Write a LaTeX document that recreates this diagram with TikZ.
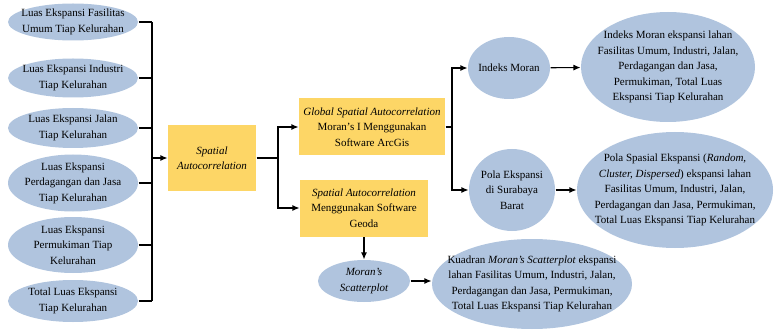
\documentclass[tikz,border=0pt]{standalone}
\usepackage{fontspec}
\setmainfont{Liberation Serif}
\usetikzlibrary{shapes.geometric,arrows.meta}

\definecolor{ellblue}{RGB}{176,196,222}
\definecolor{boxgold}{RGB}{253,214,102}

\tikzset{
  oval/.style={ellipse, fill=ellblue, inner sep=-25pt, align=center},
  gbox/.style={rectangle, fill=boxgold, inner sep=0pt, align=center},
  arr/.style={-{Latex[length=7pt,width=6pt]}},
}

\begin{document}
\begin{tikzpicture}[x=1pt,y=-1pt,line width=1.1pt,
    font=\fontsize{11}{15.5}\selectfont]
  \useasboundingbox (0,0) rectangle (778,331);

  \node[oval, minimum width=130, minimum height=37] (e1) at (73,22) {Luas Ekspansi Fasilitas\\Umum Tiap Kelurahan};
  \node[oval, minimum width=130, minimum height=39] (e2) at (73,78) {Luas Ekspansi Industri\\Tiap Kelurahan};
  \node[oval, minimum width=130, minimum height=40] (e3) at (73,128) {Luas Ekspansi Jalan\\Tiap Kelurahan};
  \node[oval, minimum width=130, minimum height=57] (e4) at (73,183) {Luas Ekspansi\\Perdagangan dan Jasa\\Tiap Kelurahan};
  \node[oval, minimum width=130, minimum height=56] (e5) at (73,245) {Luas Ekspansi\\Permukiman Tiap\\Kelurahan};
  \node[oval, minimum width=130, minimum height=42] (e6) at (73,301) {Total Luas Ekspansi\\Tiap Kelurahan};

  \node[gbox, minimum width=88, minimum height=66] (sa) at (212,158) {\itshape Spatial\\\itshape Autocorrelation};
  \node[gbox, minimum width=146, minimum height=57] (glob) at (372,127) {\itshape Global Spatial Autocorrelation\\Moran's I Menggunakan\\Software ArcGis};
  \node[gbox, minimum width=128, minimum height=57] (geoda) at (364,208) {\itshape Spatial Autocorrelation\\Menggunakan Software\\Geoda};

  \node[oval, minimum width=92, minimum height=42] (scat) at (364,281) {\itshape Moran's\\\itshape Scatterplot};
  \node[oval, minimum width=200, minimum height=90] (kuad) at (532,284) {Kuadran \textit{Moran's Scatterplot} ekspansi\\lahan Fasilitas Umum, Industri, Jalan,\\Perdagangan dan Jasa, Permukiman,\\Total Luas Ekspansi Tiap Kelurahan};

  \node[oval, minimum width=82, minimum height=62] (im) at (509,68) {Indeks Moran};
  \node[oval, minimum width=174, minimum height=110] (imres) at (668,67) {Indeks Moran ekspansi lahan\\Fasilitas Umum, Industri, Jalan,\\Perdagangan dan Jasa,\\Permukiman, Total Luas\\Ekspansi Tiap Kelurahan};
  \node[oval, minimum width=86, minimum height=82] (pola) at (512,190) {Pola Ekspansi\\di Surabaya\\Barat};
  \node[oval, minimum width=196, minimum height=116] (polares) at (675,190) {Pola Spasial Ekspansi (\textit{Random,}\\\textit{Cluster, Dispersed}) ekspansi lahan\\Fasilitas Umum, Industri, Jalan,\\Perdagangan dan Jasa, Permukiman,\\Total Luas Ekspansi Tiap Kelurahan};

  % left bus
  \coordinate (b1) at (152,22);
  \coordinate (b6) at (152,301);
  \draw (b1) -- (b6);
  \foreach \e in {e1,e2,e3,e4,e5,e6}
    \draw (\e) -- (\e -| b1);
  \draw[arr] (b1 |- sa) -- (sa);

  % split after spatial autocorrelation
  \coordinate (j1) at (278,158);
  \draw (sa) -- (j1);
  \draw[arr] (j1) |- (glob);
  \draw[arr] (j1) |- (geoda);
  \draw[arr] (geoda) -- (scat);
  \draw[arr] (scat) -- (scat -| kuad.west);

  % split after global
  \coordinate (j2) at (452,127);
  \draw (glob) -- (j2);
  \draw[arr] (j2) |- (im);
  \draw[arr] (j2) |- (pola);
  \draw[arr] (im) -- (imres);
  \draw[arr] (pola) -- (polares);
\end{tikzpicture}
\end{document}
